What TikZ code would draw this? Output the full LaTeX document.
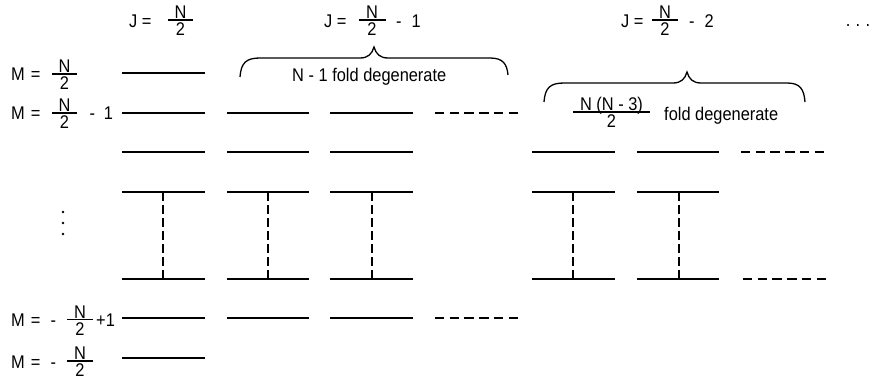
\documentclass[tikz,border=0pt]{standalone}
\usepackage{fontspec}
\usepackage{graphicx}
\setmainfont{Liberation Sans}
\newcommand\tl[1]{\scalebox{1}[1.12]{#1}}
\tikzset{
  txt/.style={inner sep=0pt, font=\fontsize{16.4}{20}\selectfont},
  level/.style={line width=1.7pt},
  dlevel/.style={line width=1.5pt, dash pattern=on 9.4pt off 5.3pt},
  vdash/.style={line width=1.4pt, dash pattern=on 9pt off 4pt},
  bracepath/.style={line width=1.3pt},
  fbar/.style={line width=1.3pt},
}
% fraction: name, x, bar y, bar width, numerator, denominator
\newcommand\frc[6]{%
  \node[txt, anchor=base] (#1n) at (#2,#3-1.5) {\tl{#5}};
  \node[txt, anchor=north] (#1d) at (#2,#3+2.5) {\tl{#6}};
  \draw[fbar] (#2-#4/2,#3) -- (#2+#4/2,#3);
}
\begin{document}
\begin{tikzpicture}[x=1pt,y=-1pt]
\useasboundingbox (0,0) rectangle (873,385);

% ---- J labels ----
\node[txt, anchor=base west] (j1) at (129,27.5) {\tl{J =}};
\frc{j1f}{180.5}{20}{25}{N}{2}
\node[txt, anchor=base west] (j2) at (324,27.5) {\tl{J =}};
\frc{j2f}{372}{20}{27}{N}{2}
\node[txt, anchor=base west] (j2m) at (396,27.5) {\tl{-\hspace{10pt}1}};
\node[txt, anchor=base west] (j3) at (621,27.5) {\tl{J =}};
\frc{j3f}{665}{20}{26}{N}{2}
\node[txt, anchor=base west] (j3m) at (689,27.5) {\tl{-\hspace{10pt}2}};
\node[txt, anchor=base] (dots) at (858,27) {\tl{.\hspace{5.4pt}.\hspace{5.4pt}.}};

% ---- M labels ----
\node[txt, anchor=base west] (m1) at (11,81) {\tl{M\hspace{1.5pt} =}};
\frc{m1f}{64.5}{74}{25}{N}{2}
\node[txt, anchor=base west] (m2) at (11,120) {\tl{M\hspace{1.5pt} =}};
\frc{m2f}{64.5}{113}{25}{N}{2}
\node[txt, anchor=base west] (m2m) at (89.3,120) {\tl{-\hspace{9pt}1}};
\node[txt, anchor=base west] (m3) at (11,326.5) {\tl{M\hspace{1.5pt} =}};
\node[txt, anchor=base west] (m3s) at (50.3,326.5) {\tl{-}};
\frc{m3f}{80}{319.5}{26}{N}{2}
\node[txt, anchor=base west] (m3p) at (96,326.5) {\tl{+1}};
\node[txt, anchor=base west] (m4) at (11,368) {\tl{M\hspace{1.5pt} =}};
\node[txt, anchor=base west] (m4s) at (50.3,368) {\tl{-}};
\frc{m4f}{80}{361}{26}{N}{2}

% vertical dots
\fill (63,212) circle (1.3);
\fill (63,223) circle (1.3);
\fill (63,234) circle (1.3);

% ---- levels: J = N/2 ----
\foreach \y in {73,113,152,192,279,318,358} \draw[level] (122,\y) -- (205,\y);
% ---- J = N/2 - 1 ----
\foreach \y in {113,152,192,279,318} {
  \draw[level] (227,\y) -- (309,\y);
  \draw[level] (330,\y) -- (413,\y);
}
\foreach \y in {113,318} \draw[dlevel] (435,\y) -- (518,\y);
% ---- J = N/2 - 2 ----
\foreach \y in {152,192,279} {
  \draw[level] (532,\y) -- (615,\y);
  \draw[level] (637,\y) -- (719,\y);
}
\draw[dlevel] (741,152) -- (824,152);
\draw[dlevel] (743,279) -- (826,279);

% vertical dashed connectors
\foreach \x in {163,268,372,573,679} \draw[vdash] (\x,192) -- (\x,279);

% ---- braces ----
\draw[bracepath] (240,77) .. controls (241,63) and (246,58) .. (260,58) -- (360,58)
  .. controls (368,58) and (372,54) .. (374,47)
  .. controls (376,54) and (380,58) .. (388,58) -- (490,58)
  .. controls (503,58) and (507,64) .. (508,75);
\node[txt, anchor=base west] (deg1) at (292,82) {\tl{N - 1 fold degenerate}};

\draw[bracepath] (544,102) .. controls (545,88) and (550,83) .. (564,83) -- (673,83)
  .. controls (681,83) and (685,79) .. (687,72)
  .. controls (689,79) and (693,83) .. (701,83) -- (787,83)
  .. controls (800,83) and (804,89) .. (805,102);
\frc{deg2f}{611.5}{112}{77}{N (N - 3)}{2}
\node[txt, anchor=base west] (deg2) at (664,121) {\tl{fold degenerate}};
\end{tikzpicture}
\end{document}
